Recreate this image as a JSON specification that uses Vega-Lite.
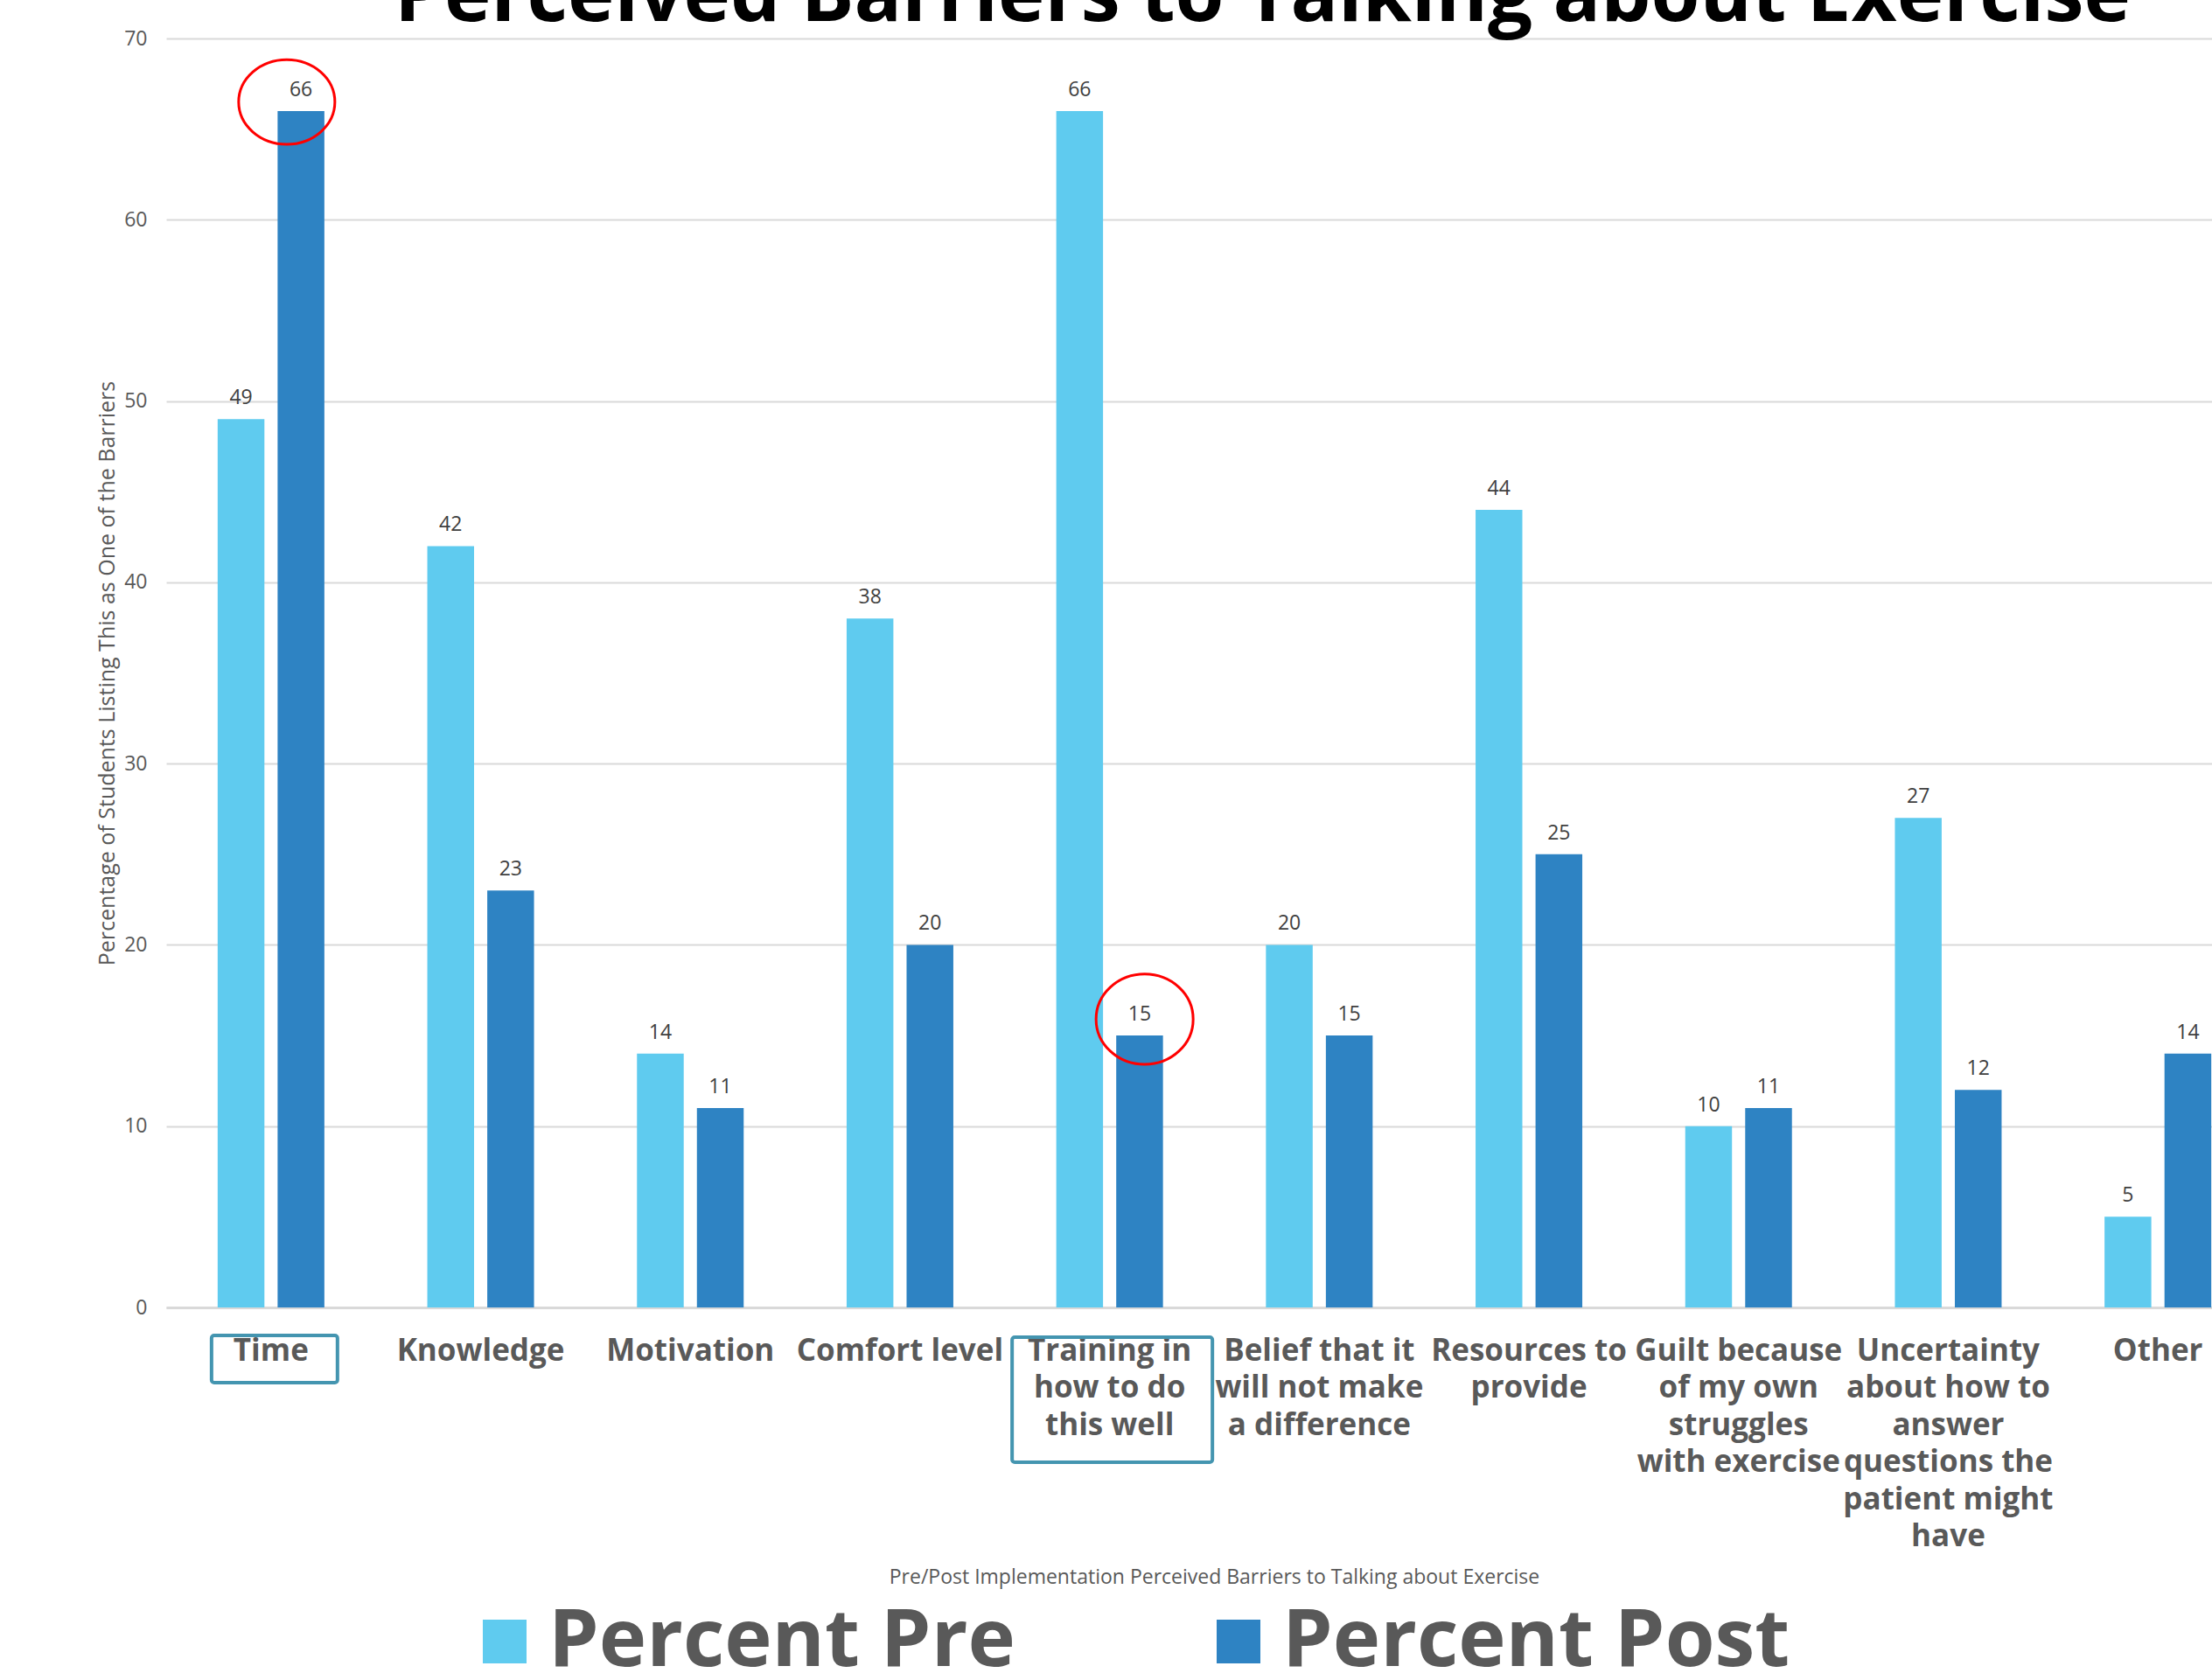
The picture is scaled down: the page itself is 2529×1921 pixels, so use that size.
{
  "$schema": "https://vega.github.io/schema/vega-lite/v6.json",
  "width": 2339,
  "height": 1451,
  "autosize": {"type": "none"},
  "padding": {"left": 190, "top": 44, "right": 0, "bottom": 426},
  "background": "white",
  "config": {"view": {"stroke": null}, "font": "Open Sans"},
  "title": {
    "text": "Perceived Barriers to Talking about Exercise",
    "font": "Open Sans",
    "fontSize": 90.5,
    "fontWeight": "bold",
    "color": "#000000",
    "anchor": "middle",
    "frame": "group",
    "dx": 84,
    "dy": 81,
    "offset": 0,
    "baseline": "alphabetic"
  },
  "datasets": {
    "bars": [
      {"category": "Time", "series": "Percent Pre", "value": 49},
      {"category": "Time", "series": "Percent Post", "value": 66},
      {"category": "Knowledge", "series": "Percent Pre", "value": 42},
      {"category": "Knowledge", "series": "Percent Post", "value": 23},
      {"category": "Motivation", "series": "Percent Pre", "value": 14},
      {"category": "Motivation", "series": "Percent Post", "value": 11},
      {"category": "Comfort level", "series": "Percent Pre", "value": 38},
      {"category": "Comfort level", "series": "Percent Post", "value": 20},
      {"category": "Training in how to do this well", "series": "Percent Pre", "value": 66},
      {"category": "Training in how to do this well", "series": "Percent Post", "value": 15},
      {"category": "Belief that it will not make a difference", "series": "Percent Pre", "value": 20},
      {"category": "Belief that it will not make a difference", "series": "Percent Post", "value": 15},
      {"category": "Resources to provide", "series": "Percent Pre", "value": 44},
      {"category": "Resources to provide", "series": "Percent Post", "value": 25},
      {"category": "Guilt because of my own struggles with exercise", "series": "Percent Pre", "value": 10},
      {"category": "Guilt because of my own struggles with exercise", "series": "Percent Post", "value": 11},
      {"category": "Uncertainty about how to answer questions the patient might have", "series": "Percent Pre", "value": 27},
      {"category": "Uncertainty about how to answer questions the patient might have", "series": "Percent Post", "value": 12},
      {"category": "Other", "series": "Percent Pre", "value": 5},
      {"category": "Other", "series": "Percent Post", "value": 14}
    ],
    "circles": [
      {"category": "Time", "value": 66.5},
      {"category": "Training in how to do this well", "value": 15.9}
    ],
    "boxes": [
      {"category": "Time", "top": -1.54, "bottom": -4.15},
      {"category": "Training in how to do this well", "top": -1.64, "bottom": -8.54}
    ]
  },
  "encoding": {
    "x": {
      "field": "category",
      "type": "nominal",
      "sort": ["Time", "Knowledge", "Motivation", "Comfort level", "Training in how to do this well", "Belief that it will not make a difference", "Resources to provide", "Guilt because of my own struggles with exercise", "Uncertainty about how to answer questions the patient might have", "Other"],
      "scale": {"range": [0, 2397], "paddingInner": 0.491, "paddingOuter": 0.2455},
      "axis": {
        "title": "Pre/Post Implementation Perceived Barriers to Talking about Exercise",
        "titleFont": "Open Sans",
        "titleFontSize": 23,
        "titleFontWeight": "normal",
        "titleColor": "#595959",
        "titleX": 1198,
        "titleY": 308,
        "titleAlign": "center",
        "titleBaseline": "middle",
        "labelAngle": 0,
        "labelFont": "Open Sans",
        "labelFontSize": 35,
        "labelFontWeight": "bold",
        "labelColor": "#595959",
        "labelPadding": 32,
        "labelBaseline": "top",
        "labelLineHeight": 42.5,
        "labelLimit": 1000,
        "labelOverlap": false,
        "ticks": false,
        "tickSize": 0,
        "domainColor": "#D9D9D9",
        "domainWidth": 3,
        "grid": false,
        "labelExpr": "datum.value == 'Training in how to do this well' ? ['Training in', 'how to do', 'this well'] : datum.value == 'Belief that it will not make a difference' ? ['Belief that it', 'will not make', 'a difference'] : datum.value == 'Resources to provide' ? ['Resources to', 'provide'] : datum.value == 'Guilt because of my own struggles with exercise' ? ['Guilt because', 'of my own', 'struggles', 'with exercise'] : datum.value == 'Uncertainty about how to answer questions the patient might have' ? ['Uncertainty', 'about how to', 'answer', 'questions the', 'patient might', 'have'] : datum.label"
      }
    }
  },
  "layer": [
    {
      "data": {"name": "bars"},
      "mark": {"type": "bar"},
      "encoding": {
        "xOffset": {"field": "series", "type": "nominal", "scale": {"domain": ["Percent Pre", "Percent Post"], "paddingInner": 0.22, "paddingOuter": 0}},
        "y": {
          "field": "value",
          "type": "quantitative",
          "scale": {"domain": [0, 70], "nice": false, "zero": true},
          "axis": {
            "title": "Percentage of Students Listing This as One of the Barriers",
            "titleFont": "Open Sans",
            "titleFontSize": 25,
            "titleFontWeight": "normal",
            "titleColor": "#595959",
            "titlePadding": 6,
            "values": [0, 10, 20, 30, 40, 50, 60, 70],
            "labelFont": "Open Sans",
            "labelFontSize": 23,
            "labelColor": "#595959",
            "labelPadding": 22,
            "ticks": false,
            "tickSize": 0,
            "domain": false,
            "gridColor": "#D9D9D9",
            "gridWidth": 2
          }
        },
        "color": {
          "field": "series",
          "type": "nominal",
          "scale": {"domain": ["Percent Pre", "Percent Post"], "range": ["#5FCBEF", "#2E83C3"]},
          "legend": {
            "title": null,
            "orient": "none",
            "legendX": 341,
            "legendY": 1787,
            "direction": "horizontal",
            "symbolType": "square",
            "symbolSize": 2500,
            "symbolStrokeWidth": 0,
            "symbolOpacity": 1,
            "labelFont": "Open Sans",
            "labelFontSize": 92,
            "labelFontWeight": "bold",
            "labelColor": "#595959",
            "labelLimit": 2000,
            "labelOffset": 4,
            "columnPadding": 209,
            "padding": 0
          }
        }
      }
    },
    {
      "data": {"name": "bars"},
      "mark": {"type": "text", "dy": -17, "baseline": "alphabetic", "font": "Open Sans", "fontSize": 23, "color": "#404040"},
      "encoding": {
        "xOffset": {"field": "series", "type": "nominal"},
        "y": {"field": "value", "type": "quantitative"},
        "text": {"field": "value", "type": "quantitative"}
      }
    },
    {
      "data": {"name": "circles"},
      "transform": [{"filter": "datum.category == 'Time'"}],
      "mark": {"type": "point", "filled": false, "stroke": "#FF0000", "strokeWidth": 3, "opacity": 1, "size": 12100, "xOffset": 18,
        "shape": "M 1 0 C 1 0.486 0.5523 0.88 0 0.88 C -0.5523 0.88 -1 0.486 -1 0 C -1 -0.486 -0.5523 -0.88 0 -0.88 C 0.5523 -0.88 1 -0.486 1 0 Z"},
      "encoding": {
        "y": {"field": "value", "type": "quantitative"}
      }
    },
    {
      "data": {"name": "circles"},
      "transform": [{"filter": "datum.category != 'Time'"}],
      "mark": {"type": "point", "filled": false, "stroke": "#FF0000", "strokeWidth": 3, "opacity": 1, "size": 12321, "xOffset": 40,
        "shape": "M 1 0 C 1 0.5136 0.5523 0.93 0 0.93 C -0.5523 0.93 -1 0.5136 -1 0 C -1 -0.5136 -0.5523 -0.93 0 -0.93 C 0.5523 -0.93 1 -0.5136 1 0 Z"},
      "encoding": {
        "y": {"field": "value", "type": "quantitative"}
      }
    },
    {
      "data": {"name": "boxes"},
      "transform": [{"filter": "datum.category == 'Time'"}],
      "mark": {"type": "rect", "width": {"band": 1.18}, "xOffset": 4, "fill": "#ffffff", "fillOpacity": 0, "stroke": "#4495B0", "strokeWidth": 4, "cornerRadius": 3},
      "encoding": {
        "y": {"field": "top", "type": "quantitative"},
        "y2": {"field": "bottom"}
      }
    },
    {
      "data": {"name": "boxes"},
      "transform": [{"filter": "datum.category != 'Time'"}],
      "mark": {"type": "rect", "width": {"band": 1.877}, "xOffset": 3, "fill": "#ffffff", "fillOpacity": 0, "stroke": "#4495B0", "strokeWidth": 4, "cornerRadius": 3},
      "encoding": {
        "y": {"field": "top", "type": "quantitative"},
        "y2": {"field": "bottom"}
      }
    }
  ]
}
